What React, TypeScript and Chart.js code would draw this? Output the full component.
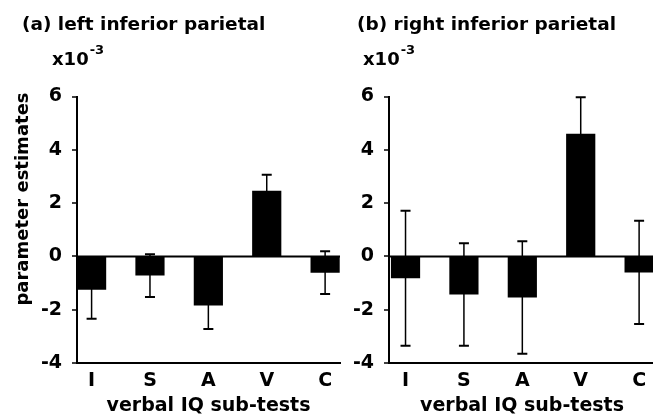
import React, { useEffect, useRef } from 'react';
import { Chart, registerables } from 'chart.js';

Chart.register(...registerables);

// ---- data ----
const categories = ['I', 'S', 'A', 'V', 'C'];
const leftValues = [-1.25, -0.72, -1.84, 2.46, -0.61];
const leftErrors = [1.09, 0.8, 0.88, 0.6, 0.8];
const rightValues = [-0.82, -1.43, -1.54, 4.6, -0.6];
const rightErrors = [2.53, 1.92, 2.11, 1.37, 1.94];
const yTicks = [-4, -2, 0, 2, 4, 6];
const panelTitles = ['(a) left inferior parietal', '(b) right inferior parietal'];
const yAxisTitle = 'parameter estimates';
const xAxisTitle = 'verbal IQ sub-tests';
const scaleBase = 'x10';
const scaleExp = '-3';

const FONT = "'DejaVu Sans', 'Liberation Sans', Arial, sans-serif";

type PanelCfg = {
  values: number[];
  errors: number[];
  title: string;
  titleX: number;
  expX: number;
  yTitle?: string;
  yWidth: number;
  xMin: number;
  xMax: number;
};

const zeroLinePlugin = {
  id: 'zeroLine',
  beforeDatasetsDraw(chart: any) {
    const { ctx, chartArea } = chart;
    const y0 = chart.scales.y.getPixelForValue(0);
    ctx.save();
    ctx.strokeStyle = '#000';
    ctx.lineWidth = 2;
    ctx.beginPath();
    ctx.moveTo(chartArea.left, y0);
    ctx.lineTo(chartArea.right, y0);
    ctx.stroke();
    ctx.restore();
  },
};

function errorBarPlugin(values: number[], errors: number[]) {
  return {
    id: 'errorBars',
    afterDatasetsDraw(chart: any) {
      const { ctx } = chart;
      const x = chart.scales.x;
      const y = chart.scales.y;
      ctx.save();
      ctx.strokeStyle = '#000';
      values.forEach((v, i) => {
        const px = x.getPixelForValue(i);
        const top = y.getPixelForValue(v + errors[i]);
        const bot = y.getPixelForValue(v - errors[i]);
        ctx.lineWidth = 1.5;
        ctx.beginPath();
        ctx.moveTo(px, top);
        ctx.lineTo(px, bot);
        ctx.stroke();
        ctx.lineWidth = 2;
        ctx.beginPath();
        ctx.moveTo(px - 5, top);
        ctx.lineTo(px + 5, top);
        ctx.moveTo(px - 5, bot);
        ctx.lineTo(px + 5, bot);
        ctx.stroke();
      });
      ctx.restore();
    },
  };
}

function textPlugin(cfg: PanelCfg) {
  return {
    id: 'panelText',
    afterDraw(chart: any) {
      const ctx = chart.ctx;
      ctx.save();
      ctx.fillStyle = '#000';
      ctx.textAlign = 'left';
      ctx.textBaseline = 'alphabetic';
      ctx.font = `bold 18.5px ${FONT}`;
      ctx.fillText(cfg.title, cfg.titleX, 29.5);
      ctx.font = `bold 18px ${FONT}`;
      ctx.fillText(scaleBase, cfg.expX, 64.5);
      const w = ctx.measureText(scaleBase).width;
      ctx.font = `bold 13px ${FONT}`;
      ctx.fillText(scaleExp, cfg.expX + w + 1, 53.5);
      if (cfg.yTitle) {
        ctx.translate(28, 199);
        ctx.rotate(-Math.PI / 2);
        ctx.textAlign = 'center';
        ctx.font = `bold 18px ${FONT}`;
        ctx.fillText(cfg.yTitle, 0, 0);
      }
      ctx.restore();
    },
  };
}

function makeChart(canvas: HTMLCanvasElement, cfg: PanelCfg) {
  const tickFont = { family: FONT, size: 19, weight: 'bold' as const };
  return new Chart(canvas, {
    type: 'bar',
    data: {
      datasets: [
        {
          data: cfg.values.map((v, i) => ({ x: i, y: v })),
          backgroundColor: '#000',
          borderWidth: 0,
          barPercentage: 0.5,
          categoryPercentage: 1,
        } as any,
      ],
    },
    options: {
      animation: false,
      responsive: false,
      events: [],
      layout: { padding: { top: 96.5, bottom: 0, left: 0, right: 5 } },
      plugins: {
        legend: { display: false },
        tooltip: { enabled: false },
        title: { display: false },
      },
      scales: {
        x: {
          type: 'linear',
          offset: false,
          min: cfg.xMin,
          max: cfg.xMax,
          afterFit: (s: any) => {
            s.height = 54;
          },
          grid: { display: false, drawTicks: false, offset: false },
          border: { display: true, color: '#000', width: 2 },
          ticks: {
            stepSize: 1,
            includeBounds: false,
            autoSkip: false,
            maxRotation: 0,
            padding: 7,
            color: '#000',
            font: tickFont,
            callback: (v: any) =>
              Number.isInteger(v) && categories[v] !== undefined ? categories[v] : '',
          },
          title: {
            display: true,
            text: xAxisTitle,
            color: '#000',
            font: tickFont,
            padding: 0,
          },
        },
        y: {
          type: 'linear',
          min: yTicks[0],
          max: yTicks[yTicks.length - 1],
          afterFit: (s: any) => {
            s.width = cfg.yWidth;
          },
          afterBuildTicks: (s: any) => {
            s.ticks = yTicks.map((v) => ({ value: v }));
          },
          ticks: { color: '#000', font: tickFont, padding: 10 },
          grid: {
            drawOnChartArea: false,
            lineWidth: 0,
            tickColor: '#000',
            tickLength: 5,
            tickWidth: 1.5,
          },
          border: { display: true, color: '#000', width: 2 },
        },
      },
    } as any,
    plugins: [zeroLinePlugin, errorBarPlugin(cfg.values, cfg.errors), textPlugin(cfg)],
  });
}

export default function App() {
  const leftRef = useRef<HTMLCanvasElement>(null);
  const rightRef = useRef<HTMLCanvasElement>(null);

  useEffect(() => {
    const charts: Chart[] = [];
    if (leftRef.current) {
      charts.push(
        makeChart(leftRef.current, {
          values: leftValues,
          errors: leftErrors,
          title: panelTitles[0],
          titleX: 22,
          expX: 52,
          yTitle: yAxisTitle,
          yWidth: 77,
          xMin: -0.25,
          xMax: 4.255,
        })
      );
    }
    if (rightRef.current) {
      charts.push(
        makeChart(rightRef.current, {
          values: rightValues,
          errors: rightErrors,
          title: panelTitles[1],
          titleX: 12,
          expX: 18,
          yWidth: 44,
          xMin: -0.283,
          xMax: 4.272,
        })
      );
    }
    return () => charts.forEach((c) => c.destroy());
  }, []);

  return (
    <div
      style={{
        position: 'fixed',
        left: 0,
        top: 0,
        width: 653,
        height: 417,
        overflow: 'hidden',
        background: '#fff',
      }}
    >
      <canvas
        ref={leftRef}
        width={345}
        height={417}
        style={{ position: 'absolute', left: 0, top: 0, width: 345, height: 417 }}
      />
      <canvas
        ref={rightRef}
        width={315}
        height={417}
        style={{ position: 'absolute', left: 345, top: 0, width: 315, height: 417 }}
      />
    </div>
  );
}
